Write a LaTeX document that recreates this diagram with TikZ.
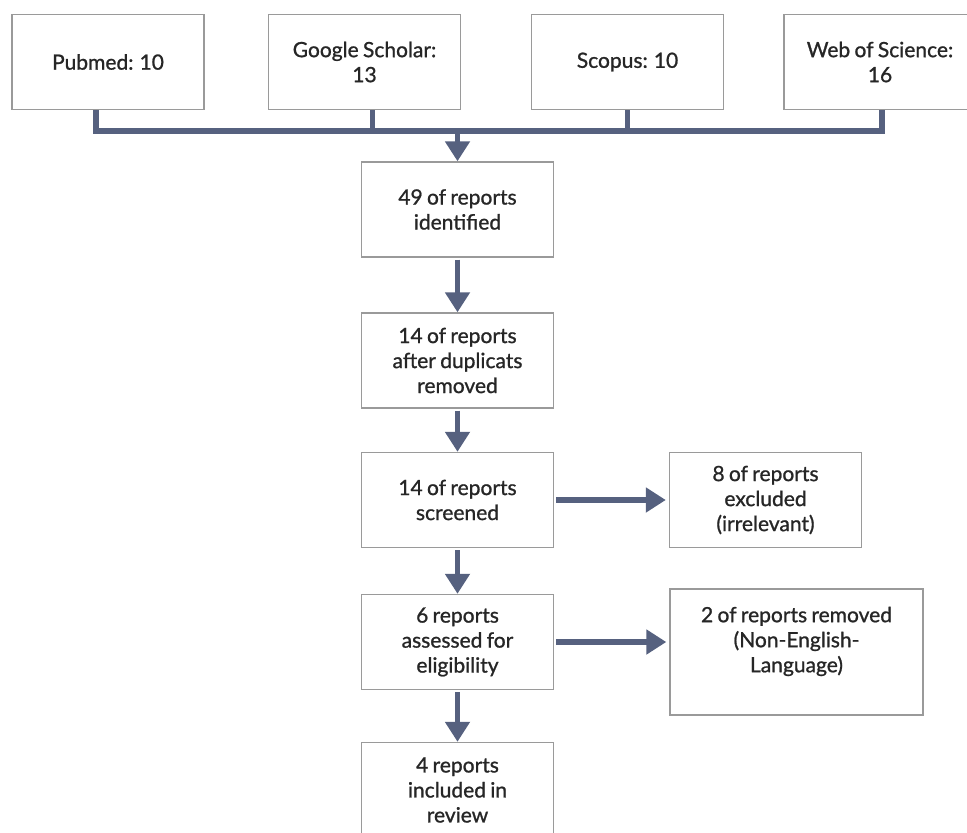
\documentclass[tikz,border=0pt]{standalone}
\usepackage{fontspec}
\setmainfont{Lato}
\newfontfamily\boxfont{Lato}[FakeBold = 1, WordSpace = 0.8]
\usetikzlibrary{positioning, calc, arrows.meta}
\definecolor{flowblue}{HTML}{56617F}
\definecolor{boxgray}{HTML}{9A9A9A}
\tikzstyle{Flow} = [
%Custom arrow style for the flow:
draw = flowblue, line width = 5.5pt,
-{Triangle[length = 20pt, width = 24pt]},
shorten <= 2pt
]

\begin{document}
\begin{tikzpicture}[x = 1pt, y = -1pt,
			box/.style = {rectangle, draw = boxgray, line width = 1.4pt, fill = white, align = center, minimum width = 192pt, minimum height = 95pt, text = black!85, font = \boxfont\fontsize{21}{25}\selectfont},
			wide/.style = {box, minimum width = 253pt, minimum height = 126pt},
			bus/.style = {draw = flowblue, line width = 5.5pt},
		]
		\useasboundingbox (0,0) rectangle (967,833);

		\node[box](PM) at (108,62){Pubmed: 10};
		\node[box](GS) at (364.5,62){Google Scholar:\\13};
		\node[box](SC) at (627.5,62){Scopus: 10};
		\node[box](WS) at (880,62){Web of Science:\\16};
		\coordinate (J) at (457.5,131);

		\node[box](ID) at (457.5,209.5){49 of reports\\identified};
		\node[box](DR) at (457.5,360.5){14 of reports\\after duplicats\\removed};
		\node[box](SR) at (457.5,500){14 of reports\\screened};
		\node[box](EX) at (765.5,500){8 of reports\\excluded\\(irrelevant)};
		\node[box](EL) at (457.5,642){6 reports\\assessed for\\eligibility};
		\node[wide](RM) at (796.5,652){2 of reports removed\\(Non-English-\\Language)\\~};
		\node[box](IN) at (457.5,790){4 reports\\included in\\review};

		% databases joined on one bar
		\draw[bus]([xshift = -12pt]PM.south) |- (J) -| ([xshift = 2pt]WS.south);
		\draw[bus]($(GS.south)+(8,0)$) -- ($(GS.south |- J)+(8,0)$);
		\draw[bus](SC.south) -- (SC.south |- J);

		\draw[Flow, shorten <= 0pt](J) -- (ID);
		\draw[Flow](ID) -- (DR);
		\draw[Flow](DR) -- (SR);
		\draw[Flow](SR) -- (EL);
		\draw[Flow](EL) -- (IN);
		\draw[Flow, shorten >= 3pt](SR) -- (EX);
		\draw[Flow, shorten >= 3pt](EL.east) -- (EL.east -| RM.west);

	\end{tikzpicture}
\end{document}
